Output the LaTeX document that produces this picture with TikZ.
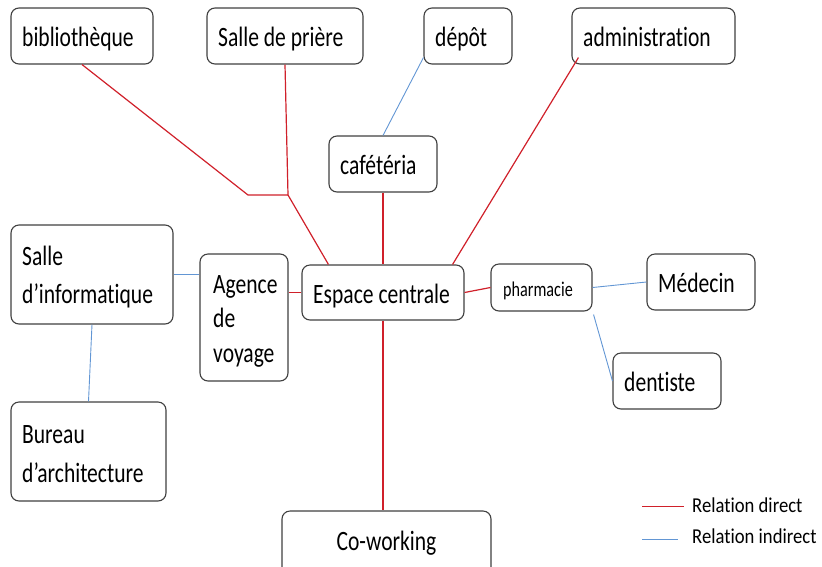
\documentclass[tikz,border=0pt]{standalone}
\usepackage{fontspec}
\setmainfont{Carlito}[FakeStretch=0.77, Ligatures=NoCommon]
\newfontfamily\keyfont{Carlito}[FakeStretch=0.88, Ligatures=NoCommon]
\usetikzlibrary{calc}

\definecolor{direct}{RGB}{208,32,42}
\definecolor{indirect}{RGB}{98,150,212}
\definecolor{frame}{RGB}{64,64,64}

\tikzset{
  room/.style={draw=frame, line width=1.1pt, rounded corners=8pt, fill=white, inner sep=0pt},
  lbl/.style={inner sep=0pt, anchor=base west, align=left, font=\fontsize{28}{38}\selectfont},
  direct link/.style={draw=direct, line width=1.2pt},
  indirect link/.style={draw=indirect, line width=0.9pt},
}

\begin{document}
\begin{tikzpicture}[x=1pt, y=-1pt]
  \useasboundingbox (0,0) rectangle (822,566);
  \clip (0,0) rectangle (822,566);

  % rooms
  \node[room, minimum width=142pt, minimum height=56pt] (biblio)   at (82,36)      {};
  \node[room, minimum width=156pt, minimum height=56pt] (priere)   at (285,36)     {};
  \node[room, minimum width=88pt,  minimum height=56pt] (depot)    at (468,36)     {};
  \node[room, minimum width=163pt, minimum height=56pt] (admin)    at (653.5,36)   {};
  \node[room, minimum width=108pt, minimum height=56pt] (cafe)     at (383,164)    {};
  \node[room, minimum width=162pt, minimum height=99pt] (info)     at (92,274.5)   {};
  \node[room, minimum width=88pt,  minimum height=127pt] (agence)  at (244,317.5)  {};
  \node[room, minimum width=162pt, minimum height=55pt] (espace)   at (383,292.5)  {};
  \node[room, minimum width=101pt, minimum height=47pt] (pharma)   at (541.5,287.5){};
  \node[room, minimum width=108pt, minimum height=56pt] (medecin)  at (701,282)    {};
  \node[room, minimum width=108pt, minimum height=56pt] (dentiste) at (667,381)    {};
  \node[room, minimum width=155pt, minimum height=99pt] (bureau)   at (88.5,451.5) {};
  \node[room, minimum width=209pt, minimum height=64pt] (cowork)   at (386.5,543)  {};

  % room names (multi-line names are placed by their last baseline)
  \node[lbl] (t-biblio)   at (22,46)    {bibliothèque};
  \node[lbl] (t-priere)   at (218,46)   {Salle de prière};
  \node[lbl] (t-depot)    at (435,46)   {dépôt};
  \node[lbl] (t-admin)    at (583,46)   {administration};
  \node[lbl] (t-cafe)     at (340,174)  {cafétéria};
  \node[lbl] (t-info)     at (22,303)   {Salle\\d’informatique};
  \node[lbl, font=\fontsize{28}{34.3}\selectfont] (t-agence) at (213,362) {Agence\\de\\voyage};
  \node[lbl] (t-espace)   at (313,303)  {Espace centrale};
  \node[lbl, font=\fontsize{21}{24}\selectfont] (t-pharma) at (503,296) {pharmacie};
  \node[lbl] (t-medecin)  at (658,292)  {Médecin};
  \node[lbl] (t-dentiste) at (624,391)  {dentiste};
  \node[lbl, font=\fontsize{28}{38.7}\selectfont] (t-bureau) at (22,482) {Bureau\\d’architecture};
  \node[lbl, anchor=base] (t-cowork) at (386.5,550) {Co-working};

  % bends of the direct links from the top
  \coordinate (bend) at (248,195);
  \coordinate (fork) at (288,195);

  % direct relations
  \draw[direct link] (biblio.south) -- (bend) -- (fork);
  \draw[direct link] (priere.south) -- (fork) -- ($(espace.north west)+(27,0)$);
  \draw[direct link] (cafe.south) -- (espace.north);
  \draw[direct link] ($(admin.south west)+(7,-7)$) -- ($(espace.north east)+(-12,0)$);
  \draw[direct link] (espace.west) -- (espace.west -| agence.east);
  \draw[direct link] (espace.east) -- (pharma.west);
  \draw[direct link] (espace.south) -- (espace.south |- cowork.north);

  % indirect relations
  \draw[indirect link] ($(depot.south west)+(0,-7)$) -- (cafe.north);
  \draw[indirect link] (info.east) -- (info.east -| agence.west);
  \draw[indirect link] (info.south) -- (bureau.north);
  \draw[indirect link] (pharma.east) -- (medecin.west);
  \draw[indirect link] ($(pharma.south east)+(1,3)$) -- (dentiste.west);

  % legend
  \coordinate (kd1) at (642,506);
  \coordinate (kd2) at (684,506);
  \coordinate (ki1) at (642,539);
  \coordinate (ki2) at (678,539);
  \draw[direct link, line width=0.8pt] (kd1) -- (kd2);
  \draw[indirect link, line width=0.8pt] (ki1) -- (ki2);
  \node[lbl, font=\keyfont\fontsize{21.2}{24}\selectfont] (t-kd) at (692,512) {Relation direct};
  \node[lbl, font=\keyfont\fontsize{21.2}{24}\selectfont] (t-ki) at (692,543) {Relation indirect};
\end{tikzpicture}
\end{document}
